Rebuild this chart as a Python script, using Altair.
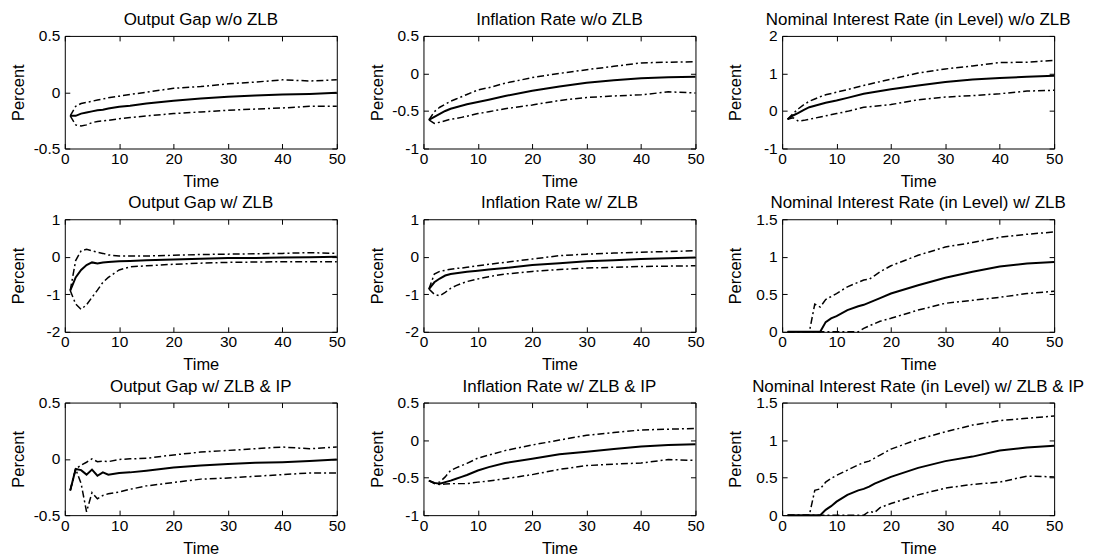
import altair as alt
import pandas as pd

FONT = "Liberation Sans"
W, H = 273, 113

T_A = [1, 2, 3, 4, 5, 6, 7, 8, 10, 12, 15, 20, 25, 30, 35, 40, 45, 50]
T_B = [1, 2, 3, 4, 5, 6, 7, 8, 9, 10, 12, 14, 15, 16, 17, 18, 20, 25, 30, 35, 40, 45, 50]
X_TICKS = [0, 10, 20, 30, 40, 50]

TITLES = [
    "Output Gap w/o ZLB", "Inflation Rate w/o ZLB", "Nominal Interest Rate (in Level) w/o ZLB",
    "Output Gap w/ ZLB", "Inflation Rate w/ ZLB", "Nominal Interest Rate (in Level) w/ ZLB",
    "Output Gap w/ ZLB & IP", "Inflation Rate w/ ZLB & IP", "Nominal Interest Rate (in Level) w/ ZLB & IP",
]
Y_DOMAINS = [[-0.5, 0.5], [-1, 0.5], [-1, 2],
             [-2, 1], [-2, 1], [0, 1.5],
             [-0.5, 0.5], [-1, 0.5], [0, 1.5]]
Y_TICKS = [[-0.5, 0, 0.5], [-1, -0.5, 0, 0.5], [-1, 0, 1, 2],
           [-2, -1, 0, 1], [-2, -1, 0, 1], [0, 0.5, 1, 1.5],
           [-0.5, 0, 0.5], [-1, -0.5, 0, 0.5], [0, 0.5, 1, 1.5]]
TIMES = [T_A, T_A, T_A, T_A, T_A, T_B, T_A, T_A, T_B]

# Panel 1: Output gap w/o ZLB
gap_nozlb_med = [-0.21, -0.21, -0.19, -0.18, -0.17, -0.16, -0.155, -0.145, -0.13, -0.12, -0.10, -0.075, -0.055, -0.04, -0.03, -0.02, -0.015, -0.005]
gap_nozlb_hi = [-0.21, -0.125, -0.10, -0.09, -0.08, -0.07, -0.06, -0.05, -0.035, -0.02, 0.0, 0.035, 0.05, 0.075, 0.09, 0.11, 0.10, 0.11]
gap_nozlb_lo = [-0.21, -0.29, -0.30, -0.29, -0.27, -0.26, -0.255, -0.25, -0.235, -0.225, -0.21, -0.19, -0.175, -0.16, -0.15, -0.14, -0.125, -0.125]
# Panel 2: Inflation w/o ZLB
inf_nozlb_med = [-0.62, -0.58, -0.54, -0.50, -0.47, -0.45, -0.43, -0.41, -0.38, -0.35, -0.30, -0.23, -0.175, -0.125, -0.09, -0.065, -0.05, -0.045]
inf_nozlb_hi = [-0.62, -0.51, -0.45, -0.41, -0.37, -0.34, -0.31, -0.28, -0.22, -0.19, -0.13, -0.055, 0.0, 0.05, 0.095, 0.14, 0.15, 0.155]
inf_nozlb_lo = [-0.62, -0.665, -0.65, -0.63, -0.61, -0.60, -0.585, -0.57, -0.535, -0.51, -0.47, -0.42, -0.36, -0.32, -0.30, -0.285, -0.245, -0.26]
# Panel 3: Nominal rate w/o ZLB
rate_nozlb_med = [-0.22, -0.12, -0.05, 0.03, 0.10, 0.14, 0.18, 0.22, 0.28, 0.35, 0.46, 0.58, 0.68, 0.77, 0.84, 0.88, 0.91, 0.94]
rate_nozlb_hi = [-0.22, -0.07, 0.06, 0.17, 0.26, 0.32, 0.38, 0.43, 0.50, 0.57, 0.68, 0.85, 1.01, 1.12, 1.20, 1.29, 1.30, 1.35]
rate_nozlb_lo = [-0.22, -0.18, -0.27, -0.25, -0.22, -0.19, -0.16, -0.13, -0.07, -0.01, 0.10, 0.17, 0.30, 0.37, 0.41, 0.46, 0.53, 0.55]
# Panel 4: Output gap w/ ZLB
gap_zlb_med = [-0.9, -0.55, -0.35, -0.22, -0.15, -0.18, -0.15, -0.14, -0.12, -0.11, -0.09, -0.07, -0.05, -0.035, -0.03, -0.02, -0.01, 0.0]
gap_zlb_hi = [-0.9, -0.1, 0.16, 0.2, 0.16, 0.12, 0.09, 0.05, 0.02, 0.02, 0.02, 0.04, 0.06, 0.07, 0.08, 0.09, 0.11, 0.09]
gap_zlb_lo = [-0.9, -1.26, -1.40, -1.28, -1.08, -0.89, -0.68, -0.55, -0.35, -0.27, -0.24, -0.2, -0.17, -0.15, -0.14, -0.13, -0.13, -0.13]
# Panel 5: Inflation w/ ZLB
inf_zlb_med = [-0.86, -0.68, -0.58, -0.50, -0.46, -0.44, -0.42, -0.40, -0.37, -0.34, -0.30, -0.22, -0.17, -0.12, -0.09, -0.06, -0.04, -0.02]
inf_zlb_hi = [-0.86, -0.46, -0.39, -0.36, -0.33, -0.31, -0.30, -0.28, -0.24, -0.20, -0.15, -0.06, 0.03, 0.07, 0.10, 0.12, 0.14, 0.16]
inf_zlb_lo = [-0.86, -1.0, -1.04, -0.95, -0.84, -0.77, -0.71, -0.66, -0.59, -0.53, -0.46, -0.39, -0.34, -0.30, -0.28, -0.26, -0.25, -0.24]
# Panel 6: Nominal rate w/ ZLB
rate_zlb_med = [0, 0, 0, 0, 0, 0, 0, 0.13, 0.18, 0.21, 0.29, 0.34, 0.36, 0.39, 0.42, 0.45, 0.51, 0.62, 0.72, 0.80, 0.87, 0.91, 0.93]
rate_zlb_hi = [0, 0, 0, 0, 0, 0.37, 0.33, 0.43, 0.47, 0.51, 0.60, 0.66, 0.69, 0.70, 0.75, 0.80, 0.88, 1.02, 1.13, 1.19, 1.26, 1.30, 1.33]
rate_zlb_lo = [0, 0, 0, 0, 0, 0, 0, 0, 0, 0, 0, 0, 0.045, 0.08, 0.11, 0.14, 0.18, 0.29, 0.38, 0.42, 0.46, 0.51, 0.54]
# Panel 7: Output gap w/ ZLB & IP
gap_ip_med = [-0.28, -0.09, -0.10, -0.14, -0.095, -0.15, -0.12, -0.14, -0.125, -0.12, -0.105, -0.077, -0.06, -0.045, -0.035, -0.03, -0.02, -0.005]
gap_ip_hi = [-0.28, -0.09, -0.055, -0.03, 0.0, -0.025, -0.02, -0.025, -0.005, 0.0, 0.005, 0.035, 0.06, 0.075, 0.09, 0.105, 0.09, 0.105]
gap_ip_lo = [-0.28, -0.09, -0.22, -0.47, -0.30, -0.355, -0.325, -0.31, -0.295, -0.27, -0.24, -0.21, -0.18, -0.17, -0.155, -0.14, -0.125, -0.125]
# Panel 8: Inflation w/ ZLB & IP
inf_ip_med = [-0.54, -0.57, -0.58, -0.56, -0.54, -0.515, -0.49, -0.465, -0.405, -0.36, -0.305, -0.25, -0.19, -0.155, -0.12, -0.085, -0.065, -0.055]
inf_ip_hi = [-0.54, -0.57, -0.56, -0.49, -0.405, -0.37, -0.34, -0.31, -0.24, -0.20, -0.14, -0.065, 0.0, 0.065, 0.10, 0.135, 0.145, 0.155]
inf_ip_lo = [-0.54, -0.58, -0.59, -0.585, -0.58, -0.58, -0.58, -0.58, -0.56, -0.545, -0.515, -0.46, -0.39, -0.34, -0.32, -0.305, -0.26, -0.27]
# Panel 9: Nominal rate w/ ZLB & IP
rate_ip_med = [0, 0, 0, 0, 0, 0, 0, 0.07, 0.12, 0.18, 0.27, 0.33, 0.35, 0.38, 0.42, 0.45, 0.51, 0.63, 0.72, 0.78, 0.86, 0.90, 0.925]
rate_ip_hi = [0, 0, 0, 0, 0, 0.33, 0.35, 0.44, 0.49, 0.53, 0.60, 0.67, 0.70, 0.72, 0.76, 0.80, 0.88, 1.01, 1.11, 1.20, 1.26, 1.29, 1.32]
rate_ip_lo = [0, 0, 0, 0, 0, 0, 0, 0, 0, 0, 0, 0, 0, 0.05, 0.035, 0.10, 0.155, 0.27, 0.36, 0.41, 0.44, 0.52, 0.51]

MEDS = [gap_nozlb_med, inf_nozlb_med, rate_nozlb_med, gap_zlb_med, inf_zlb_med, rate_zlb_med, gap_ip_med, inf_ip_med, rate_ip_med]
HIS = [gap_nozlb_hi, inf_nozlb_hi, rate_nozlb_hi, gap_zlb_hi, inf_zlb_hi, rate_zlb_hi, gap_ip_hi, inf_ip_hi, rate_ip_hi]
LOS = [gap_nozlb_lo, inf_nozlb_lo, rate_nozlb_lo, gap_zlb_lo, inf_zlb_lo, rate_zlb_lo, gap_ip_lo, inf_ip_lo, rate_ip_lo]

DASHDOT = [7, 3, 2, 3]
TICK_LEN = 5


def tick_axis(orient, values):
    return alt.Axis(orient=orient, values=values, labels=False, domain=False, grid=False,
                    title=None, ticks=True, tickSize=TICK_LEN, tickColor="black", tickWidth=1,
                    offset=-TICK_LEN, minExtent=0, maxExtent=0)


def panel(title, t, lo, med, hi, ydom, yticks):
    df = pd.DataFrame({"t": t, "lo": lo, "med": med, "hi": hi})
    xs = alt.Scale(domain=[0, 50], nice=False, zero=False)
    ys = alt.Scale(domain=ydom, nice=False, zero=False)
    base = alt.Chart(df)
    lo_layer = base.mark_line(color="black", strokeWidth=1.5, strokeDash=DASHDOT).encode(
        x=alt.X("t:Q", scale=xs, axis=tick_axis("bottom", X_TICKS)),
        y=alt.Y("lo:Q", scale=ys, axis=tick_axis("left", yticks)),
    )
    hi_layer = base.mark_line(color="black", strokeWidth=1.5, strokeDash=DASHDOT).encode(
        x=alt.X("t:Q", scale=xs, axis=tick_axis("top", X_TICKS)),
        y=alt.Y("hi:Q", scale=ys, axis=tick_axis("right", yticks)),
    )
    med_layer = base.mark_line(color="black", strokeWidth=2).encode(
        x=alt.X("t:Q", scale=xs, axis=alt.Axis(
            orient="bottom", values=X_TICKS, ticks=False, domain=False, grid=False,
            labelFlush=False, labelPadding=3, labelFontSize=15.5, labelFont=FONT, labelColor="black",
            title="Time", titleFont=FONT, titleFontSize=16.5, titleFontWeight="normal",
            titleColor="black", titleBaseline="alphabetic", titleY=38, minExtent=0)),
        y=alt.Y("med:Q", scale=ys, axis=alt.Axis(
            orient="left", values=yticks, ticks=False, domain=False, grid=False,
            labelFlush=False, labelPadding=5, labelFontSize=15.5, labelFont=FONT, labelColor="black",
            labelExpr="'' + datum.value",
            title="Percent", titleFont=FONT, titleFontSize=16.5, titleFontWeight="normal",
            titleColor="black", titleBaseline="alphabetic", titleAngle=270,
            titleX=-41.5, titleY=H / 2, minExtent=0)),
    )
    return alt.layer(lo_layer, hi_layer, med_layer).resolve_axis(
        x="independent", y="independent"
    ).properties(
        width=W, height=H,
        title=alt.TitleParams(text=title, font=FONT, fontSize=17, fontWeight="normal",
                              color="black", anchor="middle", frame="group",
                              baseline="alphabetic", offset=-13),
    )


panels = [panel(TITLES[i], TIMES[i], LOS[i], MEDS[i], HIS[i], Y_DOMAINS[i], Y_TICKS[i]) for i in range(9)]

chart = alt.concat(*panels, columns=3, spacing={"row": 71, "column": 87}, bounds="flush").properties(
    padding={"left": 2, "top": 1, "right": 5, "bottom": 5}
).configure(
    font=FONT, background="white",
    view=alt.ViewConfig(stroke="black", strokeWidth=1),
)

chart.save("out.html", embed_options={"renderer": "svg", "actions": False})
